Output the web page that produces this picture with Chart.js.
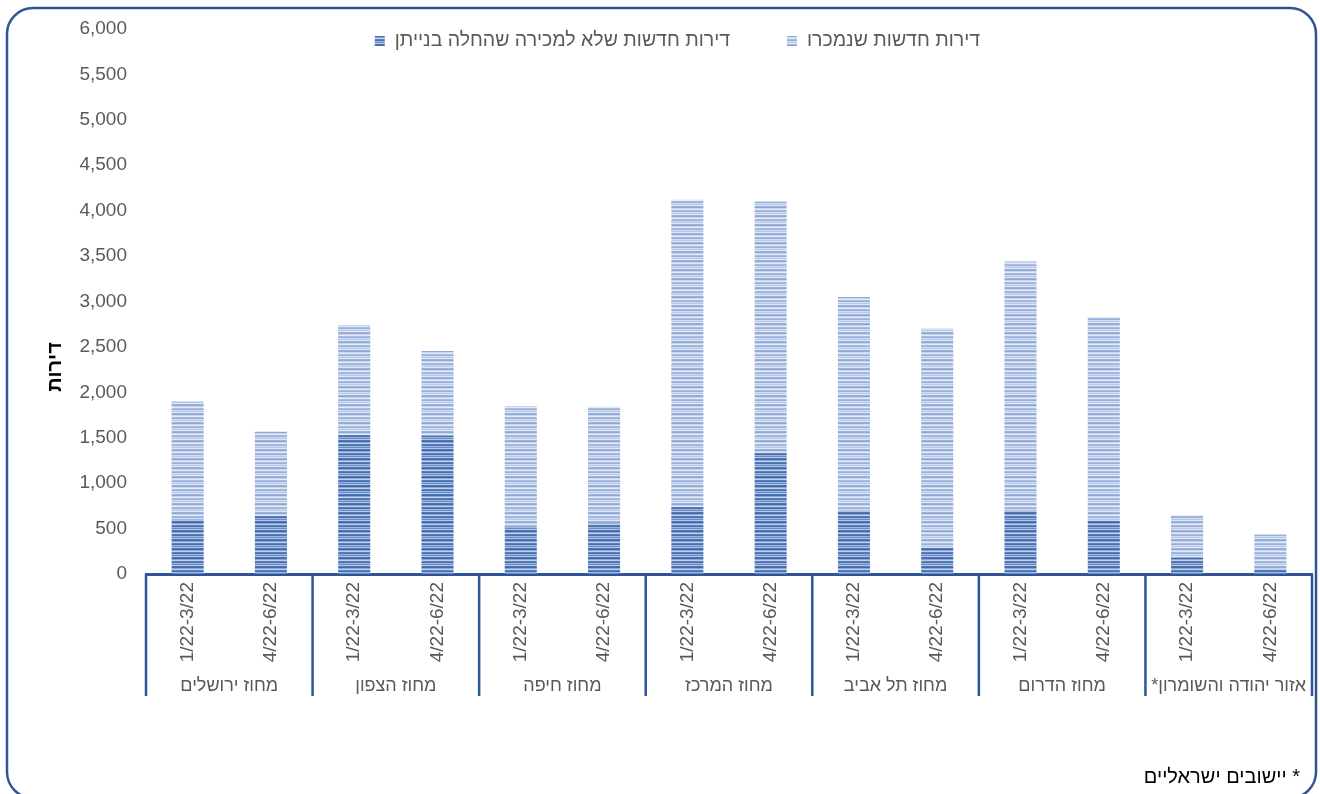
<!DOCTYPE html>
<html lang="he">
<head>
<meta charset="utf-8">
<script src="https://cdn.jsdelivr.net/npm/chart.js@4.4.1/dist/chart.umd.min.js"></script>
<style>
  html, body { margin: 0; padding: 0; background: #fff; overflow: hidden; }
  #wrap { width: 1320px; height: 794px; position: relative; }
</style>
</head>
<body>
<div id="wrap"><canvas id="c" width="1320" height="794"></canvas></div>
<script>
  // chart data
  const periods = ['1/22-3/22', '4/22-6/22'];
  const regions = ['מחוז ירושלים', 'מחוז הצפון', 'מחוז חיפה', 'מחוז המרכז', 'מחוז תל אביב', 'מחוז הדרום', 'אזור יהודה והשומרון*'];
  const notForSale = [600, 640, 1530, 1525, 520, 560, 740, 1335, 695, 290, 695, 590, 180, 55];
  const sold = [1305, 925, 1210, 930, 1330, 1280, 3380, 2765, 2355, 2410, 2745, 2240, 470, 380];
  const seriesNames = ['דירות חדשות שלא למכירה שהחלה בנייתן', 'דירות חדשות שנמכרו'];
  const yTitle = 'דירות';
  const footnote = '* יישובים ישראליים';

  const labels = [];
  regions.forEach(() => periods.forEach(p => labels.push(p)));

  const FONT = "'Liberation Sans', Arial, sans-serif";
  const GREY = '#595959';
  const NAVY = '#2F5597';

  // striped fill like the excel texture
  function stripes(rows){
    const cv = document.createElement('canvas');
    cv.width = 4; cv.height = rows.length;
    const g = cv.getContext('2d');
    rows.forEach((c, i) => { g.fillStyle = c; g.fillRect(0, i, 4, 1); });
    return g.createPattern(cv, 'repeat');
  }
  const ctx = document.getElementById('c').getContext('2d');
  const lightFill = stripes(['#8FA8D6','#C9D6EE','#E3EAF6','#A9BDE2','#98AFDA','#D3DEF1','#B5C6E6','#E1E8F5','#9CB2DC']);
  const darkFill = stripes(['#3F69AB','#8CA6D4','#C0CFEA','#5A7FBD','#4570B1','#A2B7DF','#6A8AC4','#B7C8E7','#4C75B4']);

  const frame = {
    id: 'frame',
    beforeDraw(chart){
      const c = chart.ctx;
      c.save();
      c.fillStyle = '#fff';
      c.fillRect(0, 0, chart.width, chart.height);
      c.strokeStyle = NAVY;
      c.lineWidth = 2.5;
      c.beginPath();
      c.roundRect(7, 8, 1309, 790, 26);
      c.stroke();
      c.restore();
    },
    afterDraw(chart){
      const c = chart.ctx;
      const x = chart.scales.x;
      const area = chart.chartArea;
      const px = i => x.getPixelForValue(i);
      c.save();
      // group separators and region labels
      c.strokeStyle = NAVY;
      c.lineWidth = 2.5;
      c.fillStyle = GREY;
      c.font = '18px ' + FONT;
      c.textAlign = 'center';
      c.textBaseline = 'middle';
      c.direction = 'rtl';
      regions.forEach((r, g) => {
        const a = 2 * g, b = 2 * g + 1;
        const left = g === 0 ? area.left : (px(a - 1) + px(a)) / 2;
        c.beginPath();
        c.moveTo(left, area.bottom);
        c.lineTo(left, 696);
        c.stroke();
        c.fillText(r, (px(a) + px(b)) / 2, 686);
      });
      c.beginPath();
      c.moveTo(area.right, area.bottom);
      c.lineTo(area.right, 696);
      c.stroke();

      // legend
      c.font = '19.5px ' + FONT;
      c.textAlign = 'right';
      const items = [[darkFill, seriesNames[0], 730], [lightFill, seriesNames[1], 980]];
      items.forEach(([fill, name, right]) => {
        const w = c.measureText(name).width;
        c.fillStyle = GREY;
        c.fillText(name, right, 41);
        c.fillStyle = fill;
        c.fillRect(right - w - 20, 36, 10, 10);
      });

      // y axis title
      c.save();
      c.translate(55, 367);
      c.rotate(-Math.PI / 2);
      c.textAlign = 'center';
      c.fillStyle = '#000';
      c.font = 'bold 20px ' + FONT;
      c.fillText(yTitle, 0, 0);
      c.restore();

      // footnote
      c.fillStyle = '#000';
      c.font = '20px ' + FONT;
      c.fillText(footnote, 1300, 777);
      c.restore();
    }
  };

  new Chart(ctx, {
    type: 'bar',
    data: {
      labels: labels,
      datasets: [
        { label: seriesNames[0], data: notForSale, backgroundColor: darkFill, borderWidth: 0 },
        { label: seriesNames[1], data: sold, backgroundColor: lightFill, borderWidth: 0 }
      ]
    },
    options: {
      responsive: false,
      animation: false,
      layout: { padding: { left: 0, right: 8, top: 29, bottom: 0 } },
      plugins: { legend: { display: false }, tooltip: { enabled: false } },
      datasets: { bar: { categoryPercentage: 1, barPercentage: 0.385 } },
      scales: {
        x: {
          stacked: true,
          grid: { display: false },
          border: { display: true, color: NAVY, width: 3 },
          ticks: {
            autoSkip: false, minRotation: 90, maxRotation: 90, padding: 0,
            color: GREY, font: { family: FONT, size: 19 }
          },
          afterFit(s){ s.height = 220; }
        },
        y: {
          stacked: true,
          min: 0, max: 6000,
          grid: { display: false },
          border: { display: false },
          ticks: { stepSize: 500, padding: 11, color: GREY, font: { family: FONT, size: 19 } },
          afterFit(s){ s.width = 146; }
        }
      }
    },
    plugins: [frame]
  });
</script>
</body>
</html>
